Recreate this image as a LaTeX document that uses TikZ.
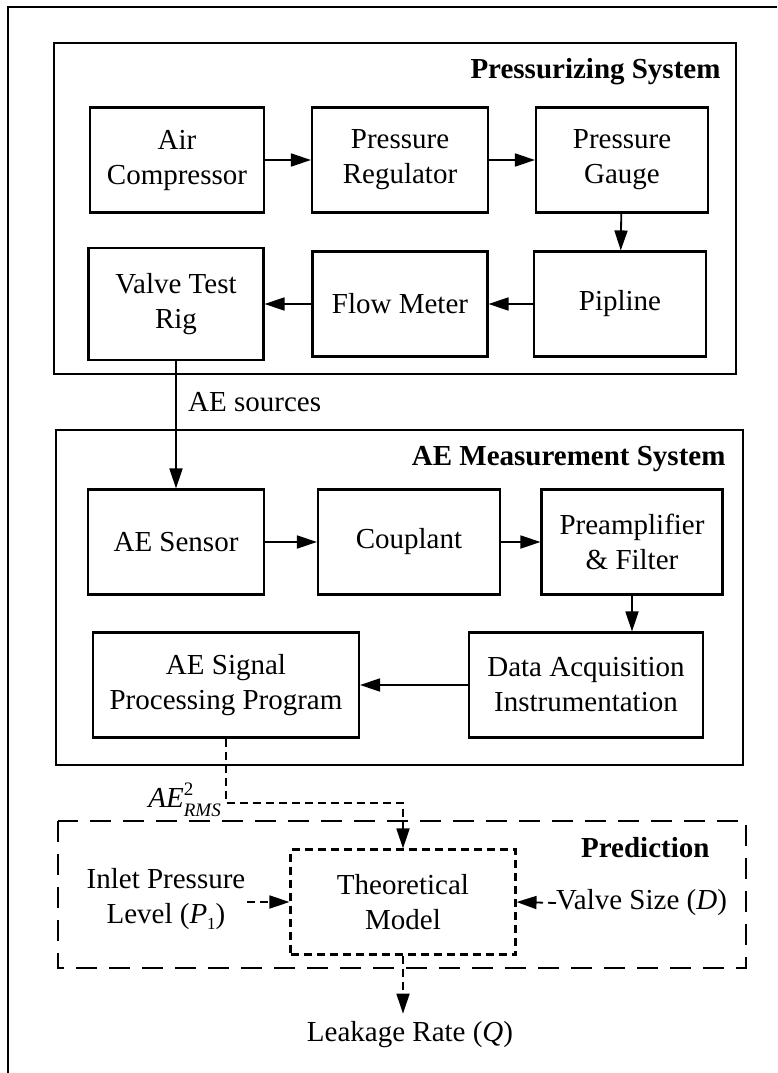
\documentclass[tikz,border=0pt]{standalone}
\usepackage{fontspec}
\setmainfont{Liberation Serif}
\usetikzlibrary{arrows.meta}

\begin{document}
\begin{tikzpicture}[x=1pt, y=-1pt]
\tikzset{boite/.style={draw, line width=2.1pt, align=center, minimum height=105pt, inner sep=2pt, font=\fontsize{29}{35}\selectfont},
fleche/.style={line width=1.8pt, -{Triangle[length=20pt, width=13pt]}},
titre/.style={anchor=east, font=\fontsize{29}{35}\selectfont\bfseries},
texte/.style={align=center, inner sep=1pt, font=\fontsize{29}{35}\selectfont},
cadre/.style={draw, line width=2.1pt}}
\useasboundingbox (0, 0) rectangle (777, 1073);
\draw[line width=2pt] (8, 1073) -- (8, 7) -- (777, 7);
\draw[cadre] (54, 43) rectangle (736, 374);
\draw[cadre] (56, 430) rectangle (743, 765);
\draw[cadre, dash pattern=on 21pt off 12pt] (58, 821) rectangle (746, 968);
\node[titre] (T1) at (724, 72) {Pressurizing System};
\node[titre] (T2) at (729, 459) {AE Measurement System};
\node[titre] (T3) at (713, 848) {Prediction};
\node[boite, minimum width=174pt] (AC) at (177, 160) {Air\\Compressor};
\node[boite, minimum width=176pt] (PR) at (400, 160) {Pressure\\Regulator};
\node[boite, minimum width=172pt] (PG) at (622, 160) {Pressure\\Gauge};
\node[boite, minimum width=175pt, minimum height=112pt] (VT) at (176, 304) {Valve Test\\Rig};
\node[boite, minimum width=175pt] (FM) at (400, 304) {Flow Meter};
\node[boite, minimum width=172pt] (PL) at (620, 304) {Pipline};
\node[boite, minimum width=176pt] (AS) at (176, 542) {AE Sensor};
\node[boite, minimum width=182pt] (CP) at (409, 542) {Couplant};
\node[boite, minimum width=181pt] (PA) at (632, 542) {Preamplifier\\\& Filter};
\node[boite, minimum width=266pt] (SP) at (226, 685) {AE Signal\\Processing Program};
\node[boite, minimum width=234pt] (DA) at (586, 685) {Data Acquisition\\Instrumentation};
\node[boite, minimum width=225pt, dash pattern=on 8pt off 5pt] (TM) at (403, 902) {Theoretical\\Model};
\node[texte, anchor=west] (AE) at (187, 402) {AE sources};
\node[texte, anchor=east, inner sep=0pt] (RM) at (221, 800) {\textit{AE}\rlap{\raisebox{12pt}{\fontsize{19}{19}\selectfont 2}}\raisebox{-9pt}{\fontsize{19}{19}\selectfont\textit{RMS}}};
\node[texte] (IP) at (166, 899) {Inlet Pressure\\Level (\textit{P}\raisebox{-6pt}{\fontsize{17}{17}\selectfont 1})};
\node[texte, anchor=west, inner sep=0pt] (VS) at (556, 903) {Valve Size (\textit{D})};
\node[texte, inner sep=8pt] (LR) at (410, 1035) {Leakage Rate (\textit{Q})};
\coordinate (C1) at (226, 803);
\draw[fleche] (AC) -- (PR);
\draw[fleche] (PR) -- (PG);
\draw[fleche] (PG) -- (PL);
\draw[fleche] (PL) -- (FM);
\draw[fleche] (FM) -- (VT);
\draw[fleche] (VT) -- (AS);
\draw[fleche] (AS) -- (CP);
\draw[fleche] (CP) -- (PA);
\draw[fleche] (PA.south) -- (PA.south |- DA.north);
\draw[fleche] (DA) -- (SP);
\draw[fleche, dash pattern=on 8pt off 5pt] (SP.south) -- (C1) -| (TM.north);
\draw[fleche, dash pattern=on 8pt off 5pt] (IP.east |- TM.west) -- (TM.west);
\draw[fleche, dash pattern=on 8pt off 5pt] (VS.west) -- (TM.east);
\draw[fleche, dash pattern=on 8pt off 5pt] (TM.south) -- (LR.north -| TM.south);
\end{tikzpicture}
\end{document}
